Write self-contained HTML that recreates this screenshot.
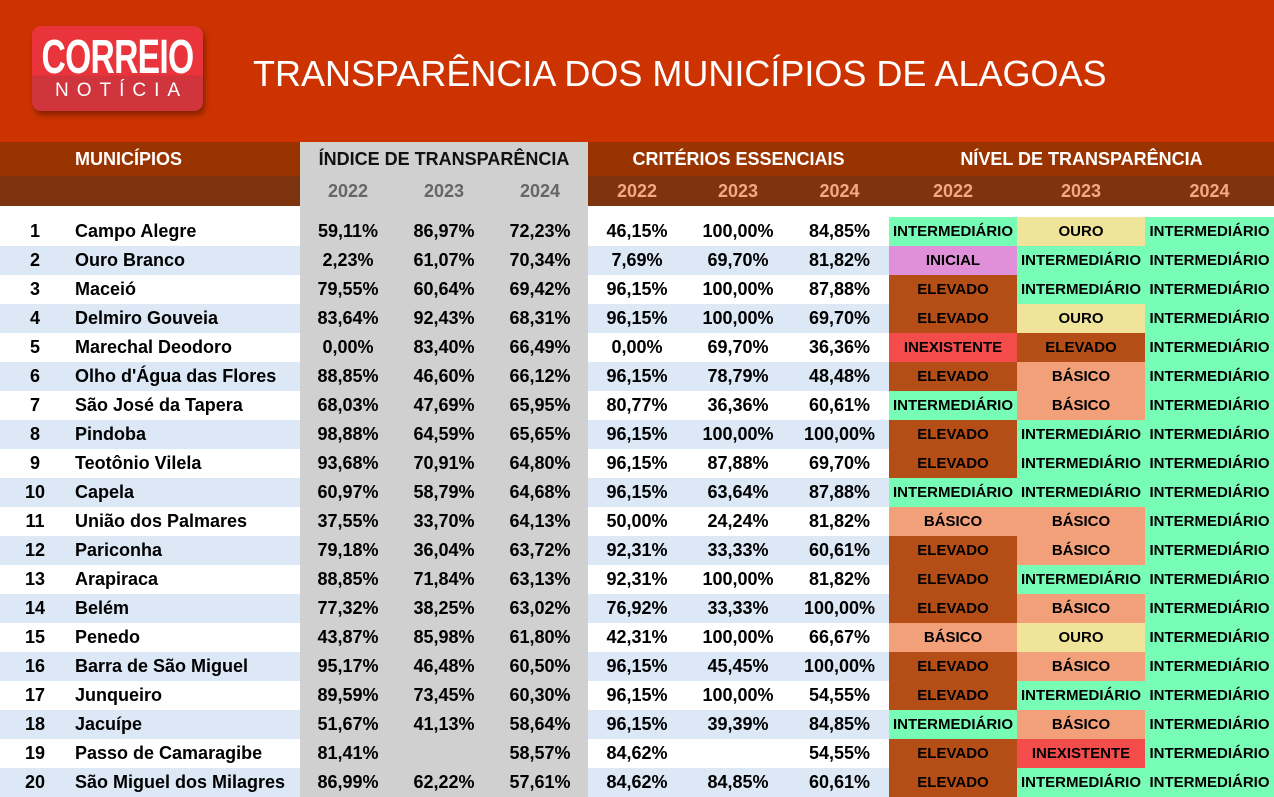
<!DOCTYPE html><html><head><meta charset="utf-8"><style>
*{margin:0;padding:0;box-sizing:border-box}
body{width:1274px;height:792px;overflow:hidden;background:#fff;font-family:"Liberation Sans",sans-serif;font-weight:bold;position:relative}
.top{position:absolute;left:0;top:0;width:1274px;height:142px;background:#cc3300}
.logo{position:absolute;left:32px;top:26px;width:171px;height:85px;border-radius:9px;background:linear-gradient(#ea343c 0,#ea343c 58%,#d0343c 58%);box-shadow:2px 4px 6px rgba(0,0,0,.35);color:#fff;text-align:center;overflow:hidden}
.logo .a{font-size:48px;line-height:46px;margin-top:9px;transform:scaleX(.7);letter-spacing:-1px;white-space:nowrap;margin-left:-40px;margin-right:-40px}
.logo .b{font-weight:normal;font-size:19px;letter-spacing:8px;line-height:20px;padding-left:8px}
.title{position:absolute;left:253px;top:53px;font-weight:normal;font-size:36px;color:#fff}
table{position:absolute;left:0;top:142px;border-collapse:collapse;table-layout:fixed}
td{height:29px;font-size:18px;text-align:center;white-space:nowrap;overflow:hidden;padding:0}
tr.h1 td{height:34px;background:#993300;color:#fff;font-size:18px}
tr.h2 td{height:30px;background:#7f3410;color:#f4a886;font-size:18px}
tr.f td{height:11px;background:#fff}
tr.h1 td.g{background:#d0d0d0;color:#111}
tr.h2 td.g{background:#d0d0d0;color:#666}
td.n{text-align:left;padding-left:5px}
td.g{background:#d0d0d0}
tr.f td.g{background:#d0d0d0}
tr.o td{background:#dce8f6}
tr.o td.g{background:#d0d0d0}
td.L{font-size:15px}
tr td.I{background:#77fdb5!important}
tr td.O{background:#efe49a!important}
tr td.N{background:#e090d8!important}
tr td.E{background:#b44d16!important}
tr td.B{background:#f2a07a!important}
tr td.X{background:#f44b4b!important}
</style></head><body>
<div class="top"></div>
<div class="logo"><div class="a">CORREIO</div><div class="b">NOTÍCIA</div></div>
<div class="title">TRANSPARÊNCIA DOS MUNICÍPIOS DE ALAGOAS</div>
<table>
<colgroup><col style="width:70px"><col style="width:230px"><col style="width:96px"><col style="width:96px"><col style="width:96px"><col style="width:98px"><col style="width:104px"><col style="width:99px"><col style="width:128px"><col style="width:128px"><col style="width:129px"></colgroup>
<tr class="h1"><td></td><td class="n">MUNICÍPIOS</td><td class="g" colspan="3">ÍNDICE DE TRANSPARÊNCIA</td><td colspan="3">CRITÉRIOS ESSENCIAIS</td><td colspan="3">NÍVEL DE TRANSPARÊNCIA</td></tr>
<tr class="h2"><td></td><td></td><td class="g">2022</td><td class="g">2023</td><td class="g">2024</td><td>2022</td><td>2023</td><td>2024</td><td>2022</td><td>2023</td><td>2024</td></tr>
<tr class="f"><td></td><td></td><td class="g"></td><td class="g"></td><td class="g"></td><td></td><td></td><td></td><td></td><td></td><td></td></tr>
<tr><td>1</td><td class="n">Campo Alegre</td><td class="g">59,11%</td><td class="g">86,97%</td><td class="g">72,23%</td><td>46,15%</td><td>100,00%</td><td>84,85%</td><td class="L I">INTERMEDIÁRIO</td><td class="L O">OURO</td><td class="L I">INTERMEDIÁRIO</td></tr>
<tr class="o"><td>2</td><td class="n">Ouro Branco</td><td class="g">2,23%</td><td class="g">61,07%</td><td class="g">70,34%</td><td>7,69%</td><td>69,70%</td><td>81,82%</td><td class="L N">INICIAL</td><td class="L I">INTERMEDIÁRIO</td><td class="L I">INTERMEDIÁRIO</td></tr>
<tr><td>3</td><td class="n">Maceió</td><td class="g">79,55%</td><td class="g">60,64%</td><td class="g">69,42%</td><td>96,15%</td><td>100,00%</td><td>87,88%</td><td class="L E">ELEVADO</td><td class="L I">INTERMEDIÁRIO</td><td class="L I">INTERMEDIÁRIO</td></tr>
<tr class="o"><td>4</td><td class="n">Delmiro Gouveia</td><td class="g">83,64%</td><td class="g">92,43%</td><td class="g">68,31%</td><td>96,15%</td><td>100,00%</td><td>69,70%</td><td class="L E">ELEVADO</td><td class="L O">OURO</td><td class="L I">INTERMEDIÁRIO</td></tr>
<tr><td>5</td><td class="n">Marechal Deodoro</td><td class="g">0,00%</td><td class="g">83,40%</td><td class="g">66,49%</td><td>0,00%</td><td>69,70%</td><td>36,36%</td><td class="L X">INEXISTENTE</td><td class="L E">ELEVADO</td><td class="L I">INTERMEDIÁRIO</td></tr>
<tr class="o"><td>6</td><td class="n">Olho d'Água das Flores</td><td class="g">88,85%</td><td class="g">46,60%</td><td class="g">66,12%</td><td>96,15%</td><td>78,79%</td><td>48,48%</td><td class="L E">ELEVADO</td><td class="L B">BÁSICO</td><td class="L I">INTERMEDIÁRIO</td></tr>
<tr><td>7</td><td class="n">São José da Tapera</td><td class="g">68,03%</td><td class="g">47,69%</td><td class="g">65,95%</td><td>80,77%</td><td>36,36%</td><td>60,61%</td><td class="L I">INTERMEDIÁRIO</td><td class="L B">BÁSICO</td><td class="L I">INTERMEDIÁRIO</td></tr>
<tr class="o"><td>8</td><td class="n">Pindoba</td><td class="g">98,88%</td><td class="g">64,59%</td><td class="g">65,65%</td><td>96,15%</td><td>100,00%</td><td>100,00%</td><td class="L E">ELEVADO</td><td class="L I">INTERMEDIÁRIO</td><td class="L I">INTERMEDIÁRIO</td></tr>
<tr><td>9</td><td class="n">Teotônio Vilela</td><td class="g">93,68%</td><td class="g">70,91%</td><td class="g">64,80%</td><td>96,15%</td><td>87,88%</td><td>69,70%</td><td class="L E">ELEVADO</td><td class="L I">INTERMEDIÁRIO</td><td class="L I">INTERMEDIÁRIO</td></tr>
<tr class="o"><td>10</td><td class="n">Capela</td><td class="g">60,97%</td><td class="g">58,79%</td><td class="g">64,68%</td><td>96,15%</td><td>63,64%</td><td>87,88%</td><td class="L I">INTERMEDIÁRIO</td><td class="L I">INTERMEDIÁRIO</td><td class="L I">INTERMEDIÁRIO</td></tr>
<tr><td>11</td><td class="n">União dos Palmares</td><td class="g">37,55%</td><td class="g">33,70%</td><td class="g">64,13%</td><td>50,00%</td><td>24,24%</td><td>81,82%</td><td class="L B">BÁSICO</td><td class="L B">BÁSICO</td><td class="L I">INTERMEDIÁRIO</td></tr>
<tr class="o"><td>12</td><td class="n">Pariconha</td><td class="g">79,18%</td><td class="g">36,04%</td><td class="g">63,72%</td><td>92,31%</td><td>33,33%</td><td>60,61%</td><td class="L E">ELEVADO</td><td class="L B">BÁSICO</td><td class="L I">INTERMEDIÁRIO</td></tr>
<tr><td>13</td><td class="n">Arapiraca</td><td class="g">88,85%</td><td class="g">71,84%</td><td class="g">63,13%</td><td>92,31%</td><td>100,00%</td><td>81,82%</td><td class="L E">ELEVADO</td><td class="L I">INTERMEDIÁRIO</td><td class="L I">INTERMEDIÁRIO</td></tr>
<tr class="o"><td>14</td><td class="n">Belém</td><td class="g">77,32%</td><td class="g">38,25%</td><td class="g">63,02%</td><td>76,92%</td><td>33,33%</td><td>100,00%</td><td class="L E">ELEVADO</td><td class="L B">BÁSICO</td><td class="L I">INTERMEDIÁRIO</td></tr>
<tr><td>15</td><td class="n">Penedo</td><td class="g">43,87%</td><td class="g">85,98%</td><td class="g">61,80%</td><td>42,31%</td><td>100,00%</td><td>66,67%</td><td class="L B">BÁSICO</td><td class="L O">OURO</td><td class="L I">INTERMEDIÁRIO</td></tr>
<tr class="o"><td>16</td><td class="n">Barra de São Miguel</td><td class="g">95,17%</td><td class="g">46,48%</td><td class="g">60,50%</td><td>96,15%</td><td>45,45%</td><td>100,00%</td><td class="L E">ELEVADO</td><td class="L B">BÁSICO</td><td class="L I">INTERMEDIÁRIO</td></tr>
<tr><td>17</td><td class="n">Junqueiro</td><td class="g">89,59%</td><td class="g">73,45%</td><td class="g">60,30%</td><td>96,15%</td><td>100,00%</td><td>54,55%</td><td class="L E">ELEVADO</td><td class="L I">INTERMEDIÁRIO</td><td class="L I">INTERMEDIÁRIO</td></tr>
<tr class="o"><td>18</td><td class="n">Jacuípe</td><td class="g">51,67%</td><td class="g">41,13%</td><td class="g">58,64%</td><td>96,15%</td><td>39,39%</td><td>84,85%</td><td class="L I">INTERMEDIÁRIO</td><td class="L B">BÁSICO</td><td class="L I">INTERMEDIÁRIO</td></tr>
<tr><td>19</td><td class="n">Passo de Camaragibe</td><td class="g">81,41%</td><td class="g"></td><td class="g">58,57%</td><td>84,62%</td><td></td><td>54,55%</td><td class="L E">ELEVADO</td><td class="L X">INEXISTENTE</td><td class="L I">INTERMEDIÁRIO</td></tr>
<tr class="o"><td>20</td><td class="n">São Miguel dos Milagres</td><td class="g">86,99%</td><td class="g">62,22%</td><td class="g">57,61%</td><td>84,62%</td><td>84,85%</td><td>60,61%</td><td class="L E">ELEVADO</td><td class="L I">INTERMEDIÁRIO</td><td class="L I">INTERMEDIÁRIO</td></tr>
</table>
</body></html>
